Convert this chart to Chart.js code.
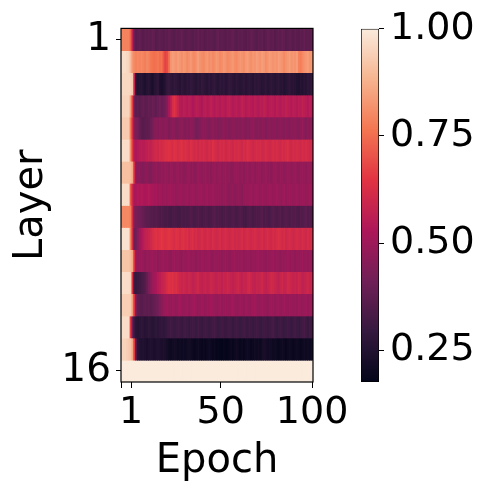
<!DOCTYPE html>
<html>
<head>
<meta charset="utf-8">
<script src="https://cdn.jsdelivr.net/npm/chart.js@4/dist/chart.umd.min.js"></script>
<style>
  html, body { margin: 0; padding: 0; background: #fff; }
  #wrap { position: relative; width: 491px; height: 491px; }
  canvas { position: absolute; left: 0; top: 0; }
</style>
</head>
<body>
<div id="wrap">
  <canvas id="heat" width="491" height="491"></canvas>
  <canvas id="cbar" width="491" height="491"></canvas>
</div>
<script>
// 5 warm-up columns, then epochs 1..100
const layer01 = [
  0.79,0.79,0.79,0.79,0.79,
  0.73,0.57,0.40,0.37,0.38,0.39,0.37,0.36,0.38,0.37,
  0.38,0.37,0.39,0.38,0.36,0.37,0.38,0.37,0.36,0.38,
  0.37,0.39,0.38,0.37,0.36,0.38,0.37,0.38,0.39,0.37,
  0.36,0.37,0.38,0.37,0.36,0.38,0.37,0.39,0.37,0.38,
  0.37,0.36,0.38,0.37,0.38,0.37,0.36,0.38,0.39,0.37,
  0.38,0.37,0.36,0.38,0.37,0.38,0.39,0.37,0.36,0.38,
  0.37,0.38,0.37,0.36,0.38,0.37,0.39,0.38,0.37,0.36,
  0.38,0.37,0.38,0.36,0.37,0.39,0.38,0.37,0.38,0.36,
  0.37,0.38,0.37,0.39,0.38,0.36,0.37,0.38,0.37,0.36,
  0.38,0.37,0.36,0.38,0.37,0.39,0.37,0.38,0.37,0.38
];
const layer02 = [
  0.97,0.97,0.97,0.96,0.95,
  0.90,0.83,0.80,0.79,0.80,0.79,0.80,0.79,0.78,0.80,
  0.79,0.77,0.76,0.75,0.76,0.77,0.75,0.76,0.71,0.67,
  0.69,0.75,0.82,0.84,0.83,0.82,0.84,0.83,0.81,0.83,
  0.82,0.80,0.82,0.83,0.81,0.80,0.82,0.84,0.82,0.81,
  0.80,0.82,0.83,0.81,0.82,0.80,0.81,0.83,0.82,0.80,
  0.81,0.83,0.82,0.80,0.81,0.82,0.83,0.81,0.80,0.82,
  0.83,0.82,0.81,0.83,0.84,0.82,0.81,0.83,0.82,0.84,
  0.83,0.82,0.84,0.83,0.81,0.82,0.84,0.83,0.82,0.83,
  0.82,0.84,0.83,0.82,0.80,0.82,0.83,0.84,0.82,0.83,
  0.82,0.84,0.79,0.78,0.80,0.82,0.83,0.84,0.82,0.83
];
const layer03 = [
  0.96,0.96,0.96,0.96,0.96,
  0.95,0.93,0.58,0.27,0.25,0.26,0.27,0.25,0.24,0.26,
  0.27,0.25,0.23,0.26,0.27,0.28,0.24,0.23,0.24,0.26,
  0.29,0.30,0.28,0.27,0.29,0.28,0.27,0.26,0.28,0.27,
  0.26,0.28,0.27,0.29,0.28,0.27,0.26,0.28,0.27,0.29,
  0.28,0.27,0.26,0.28,0.27,0.28,0.29,0.27,0.26,0.28,
  0.27,0.28,0.26,0.27,0.29,0.28,0.27,0.26,0.28,0.27,
  0.26,0.27,0.28,0.26,0.27,0.28,0.27,0.26,0.28,0.27,
  0.28,0.27,0.26,0.27,0.28,0.26,0.27,0.28,0.27,0.26,
  0.27,0.28,0.26,0.27,0.25,0.26,0.27,0.28,0.26,0.27,
  0.26,0.25,0.24,0.26,0.25,0.27,0.26,0.28,0.27,0.29
];
const layer04 = [
  0.95,0.95,0.95,0.95,0.95,
  0.85,0.66,0.40,0.37,0.38,0.36,0.38,0.39,0.37,0.38,
  0.39,0.38,0.40,0.39,0.38,0.40,0.41,0.39,0.40,0.42,
  0.45,0.52,0.56,0.62,0.64,0.61,0.58,0.55,0.54,0.56,
  0.55,0.54,0.56,0.55,0.53,0.54,0.56,0.55,0.54,0.53,
  0.55,0.56,0.54,0.55,0.57,0.55,0.54,0.56,0.55,0.54,
  0.56,0.55,0.54,0.56,0.57,0.55,0.54,0.55,0.56,0.54,
  0.55,0.57,0.56,0.54,0.55,0.56,0.55,0.54,0.56,0.55,
  0.54,0.56,0.55,0.57,0.56,0.54,0.55,0.56,0.55,0.54,
  0.56,0.55,0.54,0.56,0.55,0.57,0.56,0.55,0.54,0.56,
  0.55,0.54,0.56,0.55,0.57,0.56,0.55,0.54,0.56,0.55
];
const layer05 = [
  0.93,0.93,0.93,0.93,0.93,
  0.78,0.62,0.45,0.43,0.42,0.39,0.37,0.36,0.37,0.38,
  0.38,0.40,0.42,0.45,0.46,0.45,0.47,0.46,0.45,0.47,
  0.46,0.44,0.45,0.47,0.46,0.44,0.45,0.46,0.47,0.45,
  0.44,0.46,0.45,0.47,0.46,0.44,0.42,0.43,0.45,0.46,
  0.47,0.46,0.45,0.44,0.46,0.47,0.45,0.46,0.44,0.45,
  0.46,0.47,0.45,0.46,0.44,0.45,0.47,0.46,0.45,0.46,
  0.45,0.47,0.46,0.44,0.46,0.45,0.47,0.48,0.46,0.45,
  0.46,0.45,0.47,0.46,0.44,0.46,0.47,0.45,0.46,0.47,
  0.45,0.46,0.47,0.46,0.45,0.47,0.46,0.45,0.47,0.46,
  0.47,0.46,0.45,0.47,0.48,0.46,0.45,0.47,0.46,0.47
];
const layer06 = [
  0.97,0.97,0.97,0.97,0.97,
  0.82,0.66,0.54,0.53,0.54,0.55,0.56,0.55,0.56,0.57,
  0.58,0.57,0.59,0.60,0.61,0.60,0.62,0.61,0.62,0.63,
  0.63,0.64,0.63,0.62,0.64,0.63,0.62,0.63,0.64,0.62,
  0.63,0.62,0.61,0.63,0.62,0.61,0.62,0.60,0.62,0.61,
  0.62,0.61,0.60,0.62,0.61,0.63,0.62,0.61,0.60,0.62,
  0.61,0.62,0.60,0.61,0.62,0.61,0.60,0.62,0.61,0.62,
  0.61,0.60,0.62,0.61,0.63,0.62,0.61,0.60,0.61,0.62,
  0.61,0.62,0.60,0.61,0.62,0.61,0.60,0.61,0.62,0.61,
  0.62,0.61,0.60,0.62,0.61,0.62,0.63,0.61,0.60,0.62,
  0.61,0.62,0.61,0.60,0.62,0.61,0.62,0.61,0.60,0.61
];
const layer07 = [
  0.91,0.91,0.91,0.91,0.91,
  0.90,0.86,0.62,0.47,0.46,0.47,0.45,0.44,0.46,0.47,
  0.45,0.44,0.46,0.47,0.48,0.46,0.47,0.48,0.47,0.49,
  0.48,0.47,0.49,0.48,0.47,0.48,0.49,0.47,0.48,0.46,
  0.47,0.48,0.49,0.47,0.48,0.46,0.47,0.49,0.48,0.47,
  0.48,0.49,0.47,0.48,0.46,0.48,0.49,0.47,0.48,0.49,
  0.47,0.48,0.49,0.47,0.48,0.46,0.47,0.48,0.49,0.48,
  0.47,0.48,0.46,0.48,0.49,0.47,0.48,0.49,0.47,0.48,
  0.49,0.48,0.47,0.48,0.49,0.47,0.48,0.46,0.48,0.49,
  0.48,0.47,0.49,0.48,0.47,0.48,0.49,0.48,0.47,0.48,
  0.49,0.48,0.47,0.48,0.49,0.48,0.47,0.49,0.48,0.48
];
const layer08 = [
  0.97,0.97,0.97,0.97,0.97,
  0.72,0.60,0.52,0.53,0.54,0.53,0.54,0.53,0.52,0.53,
  0.54,0.53,0.52,0.51,0.52,0.50,0.51,0.50,0.49,0.50,
  0.49,0.50,0.51,0.49,0.50,0.48,0.49,0.50,0.49,0.48,
  0.49,0.50,0.48,0.49,0.50,0.49,0.48,0.49,0.50,0.49,
  0.48,0.49,0.50,0.48,0.49,0.50,0.49,0.48,0.49,0.48,
  0.47,0.48,0.49,0.47,0.46,0.47,0.48,0.46,0.47,0.48,
  0.47,0.46,0.48,0.49,0.48,0.49,0.50,0.48,0.49,0.50,
  0.49,0.48,0.50,0.49,0.48,0.49,0.50,0.49,0.48,0.49,
  0.50,0.49,0.48,0.49,0.50,0.48,0.49,0.50,0.49,0.48,
  0.49,0.50,0.48,0.49,0.50,0.49,0.48,0.49,0.50,0.49
];
const layer09 = [
  0.80,0.80,0.80,0.80,0.80,
  0.78,0.62,0.44,0.43,0.42,0.41,0.40,0.39,0.38,0.37,
  0.37,0.36,0.36,0.35,0.36,0.35,0.34,0.35,0.34,0.33,
  0.34,0.33,0.32,0.33,0.34,0.33,0.32,0.33,0.34,0.33,
  0.34,0.33,0.34,0.35,0.34,0.33,0.34,0.35,0.34,0.33,
  0.34,0.35,0.34,0.33,0.34,0.35,0.36,0.34,0.35,0.34,
  0.33,0.34,0.35,0.34,0.33,0.34,0.35,0.34,0.33,0.34,
  0.35,0.34,0.33,0.32,0.34,0.35,0.34,0.33,0.34,0.35,
  0.34,0.35,0.36,0.34,0.35,0.34,0.33,0.35,0.36,0.35,
  0.34,0.35,0.36,0.34,0.35,0.36,0.35,0.34,0.36,0.35,
  0.36,0.35,0.34,0.36,0.35,0.36,0.37,0.35,0.36,0.35
];
const layer10 = [
  0.98,0.98,0.98,0.98,0.98,
  0.80,0.62,0.40,0.42,0.46,0.50,0.53,0.55,0.57,0.58,
  0.59,0.60,0.62,0.63,0.64,0.63,0.64,0.65,0.64,0.63,
  0.64,0.65,0.64,0.63,0.62,0.64,0.63,0.62,0.63,0.64,
  0.62,0.63,0.61,0.62,0.63,0.61,0.62,0.60,0.61,0.62,
  0.61,0.60,0.62,0.61,0.60,0.62,0.61,0.60,0.61,0.62,
  0.60,0.61,0.62,0.61,0.60,0.61,0.62,0.60,0.61,0.60,
  0.61,0.62,0.60,0.61,0.62,0.61,0.60,0.61,0.62,0.61,
  0.60,0.61,0.62,0.60,0.61,0.62,0.61,0.60,0.62,0.61,
  0.62,0.63,0.62,0.61,0.62,0.60,0.61,0.62,0.61,0.60,
  0.61,0.62,0.61,0.60,0.62,0.61,0.60,0.62,0.61,0.62
];
const layer11 = [
  0.92,0.92,0.92,0.92,0.92,
  0.90,0.86,0.64,0.49,0.48,0.49,0.50,0.48,0.47,0.49,
  0.48,0.49,0.50,0.48,0.49,0.47,0.48,0.49,0.50,0.48,
  0.49,0.48,0.47,0.49,0.50,0.48,0.49,0.48,0.47,0.49,
  0.48,0.49,0.50,0.48,0.49,0.48,0.47,0.49,0.48,0.50,
  0.49,0.48,0.49,0.50,0.48,0.47,0.49,0.48,0.49,0.48,
  0.47,0.48,0.49,0.48,0.47,0.48,0.49,0.50,0.48,0.49,
  0.48,0.49,0.47,0.48,0.49,0.48,0.47,0.49,0.48,0.49,
  0.50,0.48,0.49,0.48,0.47,0.49,0.48,0.49,0.50,0.48,
  0.49,0.48,0.47,0.49,0.48,0.49,0.50,0.48,0.49,0.48,
  0.47,0.49,0.48,0.49,0.50,0.48,0.49,0.48,0.49,0.48
];
const layer12 = [
  0.97,0.97,0.97,0.97,0.97,
  0.95,0.64,0.31,0.30,0.31,0.32,0.33,0.34,0.36,0.39,
  0.43,0.46,0.49,0.51,0.53,0.55,0.56,0.58,0.59,0.60,
  0.62,0.64,0.63,0.64,0.62,0.63,0.61,0.60,0.59,0.60,
  0.59,0.58,0.60,0.59,0.57,0.58,0.59,0.60,0.58,0.57,
  0.58,0.59,0.57,0.58,0.60,0.59,0.58,0.57,0.59,0.58,
  0.57,0.59,0.58,0.60,0.59,0.58,0.57,0.58,0.59,0.60,
  0.58,0.57,0.59,0.58,0.60,0.61,0.59,0.58,0.57,0.59,
  0.58,0.59,0.60,0.58,0.57,0.58,0.59,0.61,0.60,0.59,
  0.58,0.57,0.59,0.60,0.58,0.59,0.61,0.60,0.59,0.58,
  0.59,0.58,0.60,0.59,0.57,0.58,0.59,0.60,0.58,0.59
];
const layer13 = [
  0.94,0.94,0.94,0.94,0.94,
  0.93,0.84,0.64,0.42,0.38,0.37,0.36,0.37,0.38,0.37,
  0.38,0.37,0.38,0.39,0.40,0.42,0.44,0.46,0.48,0.49,
  0.50,0.49,0.48,0.50,0.49,0.48,0.50,0.51,0.49,0.48,
  0.49,0.50,0.48,0.49,0.50,0.51,0.49,0.48,0.49,0.50,
  0.49,0.48,0.50,0.49,0.51,0.50,0.49,0.48,0.49,0.50,
  0.48,0.49,0.50,0.49,0.48,0.50,0.51,0.49,0.48,0.49,
  0.50,0.49,0.48,0.50,0.49,0.48,0.49,0.50,0.51,0.49,
  0.48,0.49,0.50,0.49,0.48,0.47,0.49,0.50,0.49,0.48,
  0.49,0.50,0.48,0.49,0.50,0.49,0.48,0.50,0.49,0.48,
  0.49,0.48,0.50,0.49,0.48,0.49,0.50,0.48,0.49,0.50
];
const layer14 = [
  0.97,0.97,0.97,0.97,0.97,
  0.66,0.40,0.30,0.27,0.26,0.27,0.28,0.27,0.26,0.27,
  0.28,0.27,0.26,0.27,0.28,0.27,0.28,0.29,0.28,0.29,
  0.30,0.31,0.32,0.31,0.30,0.31,0.32,0.31,0.30,0.31,
  0.32,0.31,0.30,0.31,0.32,0.31,0.30,0.32,0.31,0.30,
  0.31,0.32,0.31,0.30,0.31,0.32,0.33,0.31,0.30,0.31,
  0.32,0.31,0.30,0.31,0.32,0.31,0.30,0.31,0.32,0.31,
  0.30,0.31,0.32,0.31,0.30,0.32,0.31,0.30,0.31,0.32,
  0.31,0.30,0.31,0.32,0.31,0.30,0.31,0.32,0.33,0.31,
  0.30,0.31,0.32,0.31,0.30,0.31,0.32,0.31,0.30,0.31,
  0.32,0.31,0.30,0.31,0.32,0.33,0.31,0.30,0.32,0.31
];
const layer15 = [
  0.95,0.95,0.95,0.94,0.93,
  0.92,0.86,0.66,0.35,0.27,0.25,0.24,0.25,0.24,0.23,
  0.24,0.25,0.24,0.23,0.24,0.25,0.24,0.23,0.24,0.23,
  0.22,0.21,0.20,0.21,0.22,0.21,0.20,0.21,0.20,0.21,
  0.20,0.21,0.22,0.21,0.20,0.19,0.20,0.21,0.20,0.19,
  0.20,0.19,0.20,0.21,0.20,0.19,0.20,0.18,0.19,0.18,
  0.18,0.19,0.18,0.18,0.19,0.20,0.19,0.20,0.21,0.20,
  0.19,0.20,0.19,0.20,0.21,0.20,0.19,0.20,0.21,0.20,
  0.21,0.20,0.22,0.23,0.22,0.21,0.22,0.21,0.20,0.21,
  0.20,0.19,0.20,0.21,0.20,0.19,0.20,0.21,0.20,0.19,
  0.20,0.21,0.20,0.19,0.20,0.21,0.20,0.21,0.20,0.21
];
const layer16 = [
  1,1,1,1,1,
  1,1,1,1,1,1,1,1,1,1,
  1,1,1,1,1,1,1,1,1,1,
  1,1,1,1,1,1,1,1,1,1,
  1,1,1,1,1,1,1,1,1,1,
  1,1,1,1,1,1,1,1,1,1,
  1,1,1,1,1,1,1,1,1,1,
  1,1,1,1,1,1,1,1,1,1,
  1,1,1,1,1,1,1,1,1,1,
  1,1,1,1,1,1,1,1,1,1,
  1,1,1,1,1,1,1,1,1,1
];
const layers = [layer01, layer02, layer03, layer04, layer05, layer06, layer07, layer08,
                layer09, layer10, layer11, layer12, layer13, layer14, layer15, layer16];

// axis ticks (column index -> label), layer ticks, colorbar ticks
const xTickPos = [0, 5, 54, 104];
const xTickText = ['', '1', '50', '100'];
const yTickPos = [1, 16];
const cbarTicks = [0.25, 0.5, 0.75, 1.0];
const colorMin = 0.176;
const colorMax = 1.0;

// seaborn "rocket"
const rocketStops = ['#03051a', '#35193e', '#701f57', '#ad1759', '#e13342', '#f37651', '#f6b48f', '#faebdd'];
const stopRgb = rocketStops.map(h => [1, 3, 5].map(i => parseInt(h.slice(i, i + 2), 16)));
function rocket(v) {
  let t = (v - colorMin) / (colorMax - colorMin);
  t = Math.min(1, Math.max(0, t));
  const p = t * (stopRgb.length - 1);
  const i = Math.min(Math.floor(p), stopRgb.length - 2);
  const f = p - i;
  const a = stopRgb[i], b = stopRgb[i + 1];
  const c = a.map((x, k) => Math.round(x + (b[k] - x) * f));
  return `rgb(${c[0]},${c[1]},${c[2]})`;
}

const FONT = 'DejaVu Sans';
const nCols = layer01.length;

const frame = {
  id: 'frame',
  afterDatasetsDraw(chart) {
    const { ctx, chartArea: a } = chart;
    ctx.save();
    ctx.strokeStyle = '#000';
    ctx.lineWidth = 1.2;
    ctx.strokeRect(a.left, a.top, a.right - a.left, a.bottom - a.top);
    ctx.restore();
  }
};

new Chart(document.getElementById('heat'), {
  type: 'bar',
  data: {
    datasets: layers.map((row, r) => ({
      data: row.map((v, c) => ({ x: c, y: [r + 0.5, r + 1.5] })),
      backgroundColor: row.map(rocket),
      borderWidth: 0,
      inflateAmount: 0.5,
      barPercentage: 1,
      categoryPercentage: 1,
      grouped: false
    }))
  },
  options: {
    responsive: false,
    animation: false,
    layout: { padding: { left: 0, top: 26, right: 178, bottom: 0 } },
    plugins: { legend: { display: false }, tooltip: { enabled: false } },
    scales: {
      x: {
        type: 'linear',
        min: -0.5,
        max: nCols - 0.5,
        offset: false,
        afterBuildTicks: s => { s.ticks = xTickPos.map(v => ({ value: v })); },
        afterFit: s => { s.height = 109; },
        ticks: {
          autoSkip: false, maxRotation: 0, padding: 2, color: '#000',
          font: { family: FONT, size: 38 },
          callback: v => xTickText[xTickPos.indexOf(v)]
        },
        grid: { offset: false, drawOnChartArea: false, tickLength: 6, color: '#000' },
        border: { display: false },
        title: { display: true, text: 'Epoch', color: '#000', font: { family: FONT, size: 40 }, padding: { top: 0, bottom: 5 } }
      },
      y: {
        type: 'linear',
        reverse: true,
        min: 0.5,
        max: layers.length + 0.5,
        afterBuildTicks: s => { s.ticks = yTickPos.map(v => ({ value: v })); },
        afterFit: s => { s.width = 121; },
        ticks: { padding: 5, color: '#000', font: { family: FONT, size: 39 } },
        grid: { drawOnChartArea: false, tickLength: 5, color: '#000' },
        border: { display: false },
        title: { display: true, text: 'Layer', color: '#000', font: { family: FONT, size: 40 }, padding: { top: 8, bottom: 0 } }
      }
    }
  },
  plugins: [frame]
});

new Chart(document.getElementById('cbar'), {
  type: 'bar',
  data: {
    labels: ['scale'],
    datasets: [{
      data: [[colorMin, colorMax]],
      backgroundColor: ctx => {
        const a = ctx.chart.chartArea;
        if (!a) return 'transparent';
        const g = ctx.chart.ctx.createLinearGradient(0, a.bottom, 0, a.top);
        rocketStops.forEach((c, i) => g.addColorStop(i / (rocketStops.length - 1), c));
        return g;
      },
      borderColor: '#000',
      borderWidth: 1,
      borderSkipped: false,
      barPercentage: 1,
      categoryPercentage: 1
    }]
  },
  options: {
    responsive: false,
    animation: false,
    layout: { padding: { left: 361, top: 26, right: 0, bottom: 109 } },
    plugins: { legend: { display: false }, tooltip: { enabled: false } },
    scales: {
      x: { display: false },
      y: {
        position: 'right',
        min: colorMin,
        max: colorMax,
        afterBuildTicks: s => { s.ticks = cbarTicks.map(v => ({ value: v })); },
        afterFit: s => { s.width = 112; },
        ticks: { padding: 6, color: '#000', font: { family: FONT, size: 38 }, callback: v => v.toFixed(2) },
        grid: { drawOnChartArea: false, tickLength: 5, color: '#000' },
        border: { display: false }
      }
    }
  }
});
</script>
</body>
</html>
